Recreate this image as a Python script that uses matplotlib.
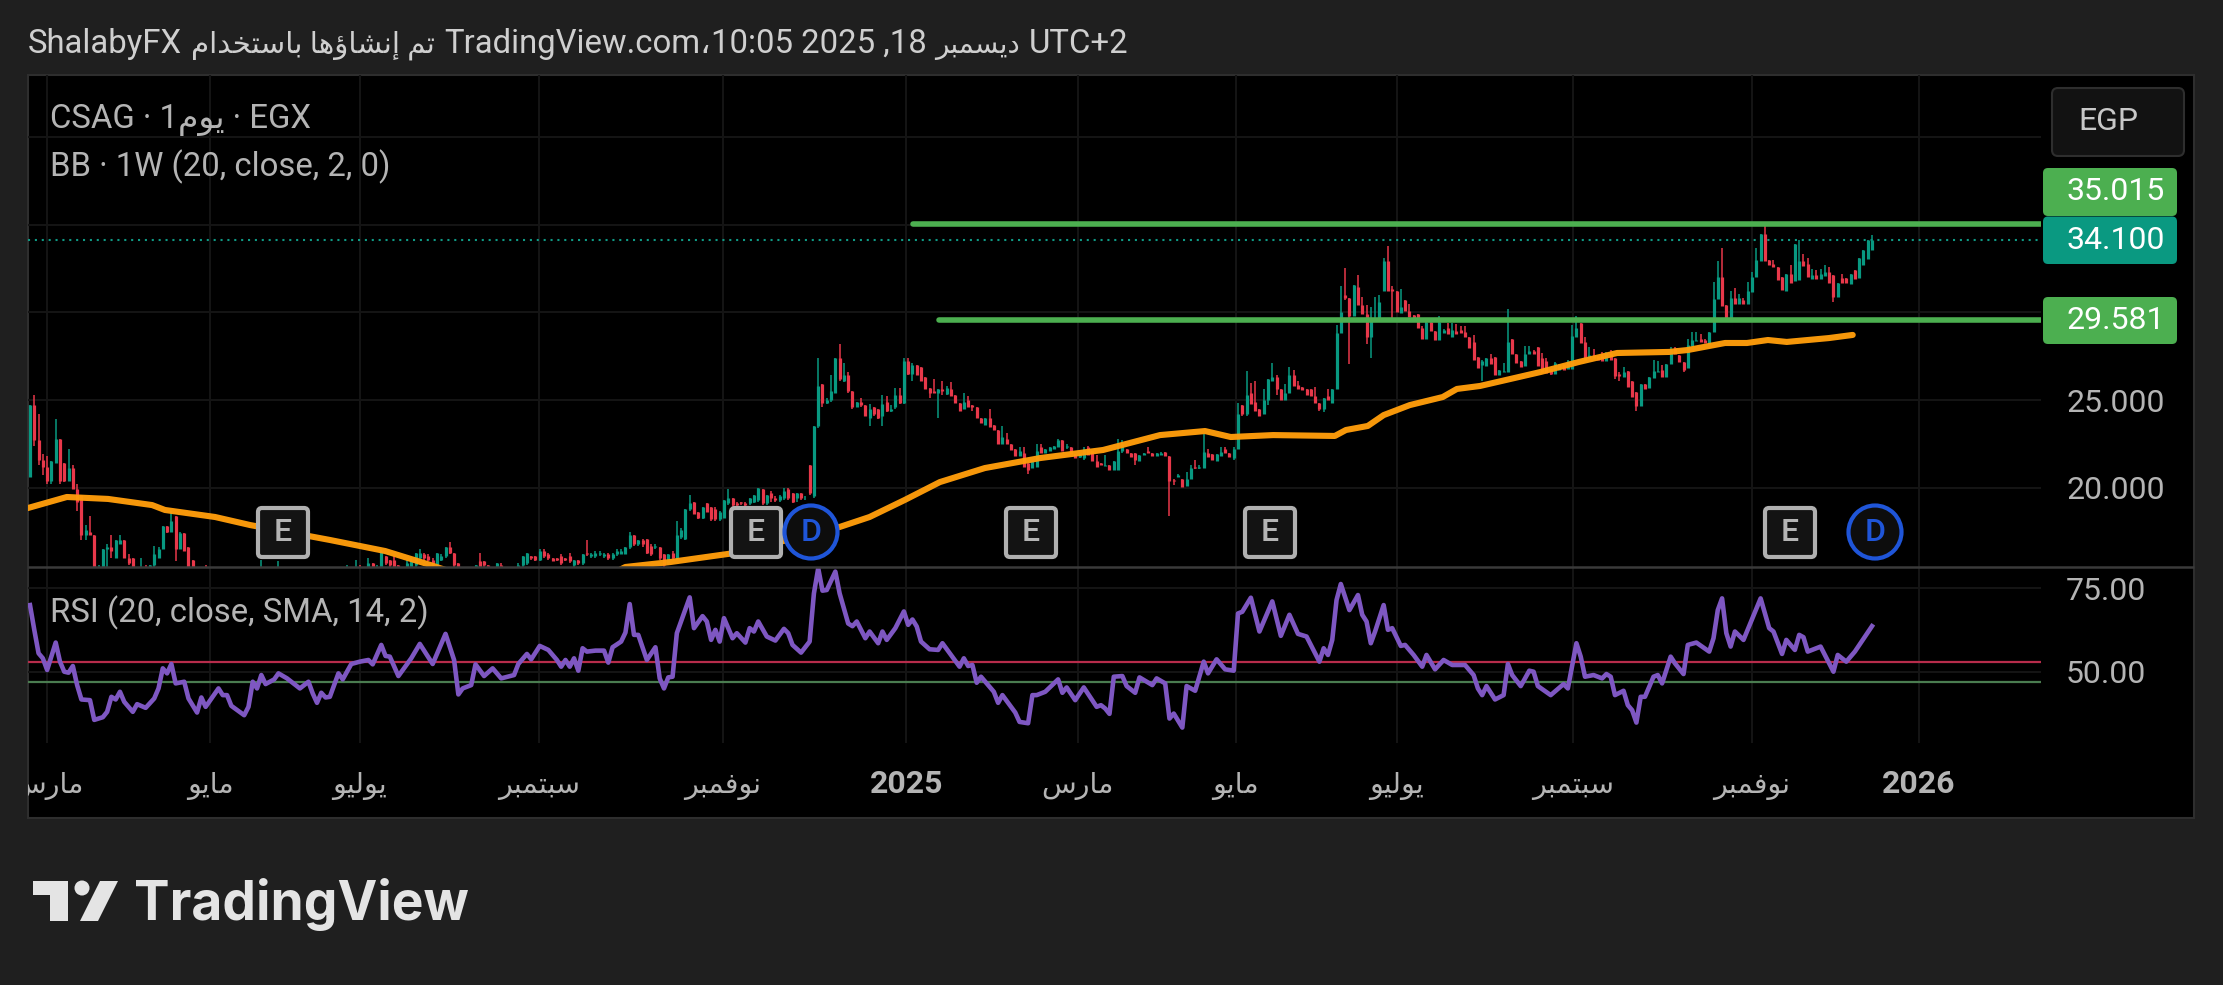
import matplotlib
matplotlib.use("Agg")
import matplotlib.pyplot as plt
from matplotlib.patches import FancyBboxPatch, Circle, Rectangle, Polygon
from matplotlib.transforms import Bbox

plt.rcParams['font.family'] = ['Roboto', 'DejaVu Sans']

closes = [
24.7,22.7,21.6,21.2,20.4,21.5,22.8,20.4,20.4,21.1,
19.9,19.2,17.3,17.6,17.3,15.4,15.3,16.5,16.6,16.4,
17,17,16,15.7,15.3,15,15.4,15.2,15.6,16.2,
16.5,17.8,17.5,18.1,16.5,17.4,16.4,15.4,15,14.9,
14.9,14.8,14.7,14.8,14.9,14.8,14.6,14.7,14.8,14.7,
14.6,14.7,14.8,14.7,15.1,15,14.9,14.8,15.0,14.9,
14.8,14.7,14.8,14.7,14.6,14.7,14.8,14.7,14.8,14.9,
14.8,14.9,15,15.1,15.2,15.1,15.3,15.2,15.3,15.7,15.3,15.5,
16.4,15.7,15.6,15.5,15.4,15.2,15.7,15.8,16.3,16.3,
16,15.9,15.6,16.3,16.1,16.6,16.3,15.6,15.5,15.4,
15.2,15.1,15.6,15.5,15.6,15.4,15.4,15.7,15.4,15.2,
15.2,15.5,15.6,16.1,16.3,16,15.9,16.4,16.1,16,
15.8,15.9,15.7,15.9,15.8,15.9,15.7,16.2,16.2,16.2,
16.3,16.3,16.2,16,16.2,16.4,16.4,16.6,17.3,16.8,
17,16.8,16.3,16.2,16.7,16,15.6,16.2,16,17.3,
17.6,18.8,19.1,18.5,18.25,18.9,18.6,18.2,18.2,18.6,
19.3,19.4,19,19,19.1,19,19.4,19.6,20,19.1,
19.6,19.4,19.3,19.5,19.8,19.4,19.2,19.7,19.4,19.4,
19.7,23.5,25.8,24.85,25,25.5,27.4,26.2,26.4,25.5,
24.6,24.9,24.7,24.1,24.5,24.2,24,24.8,24.4,24.5,
25.3,24.85,27.2,26.5,27,26.4,26.1,25.6,25.4,25.4,
25.6,25.5,25.7,25.2,24.85,24.4,24.9,24.6,24.6,23.95,
23.7,24,23.45,23.3,22.5,22.9,22.5,22.15,21.8,22.1,
21.2,21,21.5,22.1,22,22.2,22.3,22.4,22.7,22.1,
22.4,21.9,21.7,21.9,22.2,21.85,21.5,21.2,21.3,21.3,
21,21.5,22.1,22.5,22,21.75,21.6,21.85,22,21.95,
21.8,21.95,22,21.8,20.4,20.4,20.7,20.05,20.5,21.1,
21.1,21.2,22.05,21.75,21.6,21.9,22.05,21.95,21.75,22.2,
24.2,24.2,25.3,24.8,24.4,24.1,25,26.2,26.3,25.6,
25,25.4,26.4,25.8,25.6,25.55,25.3,25.2,24.85,24.5,
25.1,25,25.65,28.8,30,30.8,29.8,31.55,30.4,29.9,
28.6,29.6,29.65,30.6,32.95,31.2,31.2,30,30.3,30.1,
29.75,29.65,29.1,28.5,29.45,28.95,28.4,29.45,29,28.75,
29,28.75,28.8,28.6,27.95,27.3,26.8,27.2,27.4,27.05,
26.4,26.7,26.65,28.3,27.6,27.1,26.9,27.6,27.8,27.6,
26.95,26.6,26.55,26.5,27.1,27,26.7,27.2,28.65,29.1,
28.25,27.3,27.55,27.4,27.3,27.2,27.7,27.3,26.35,26.35,
26.6,25.75,25.15,24.65,25.9,25.65,26.3,26.65,26.65,26.3,
27.05,27.85,27.6,27.15,26.7,28.15,28.4,28.4,28.3,28.25,
28.9,30.75,32,30.35,29.65,30.8,30.5,30.8,30.5,31.2,
32,33,34.45,32.95,32.7,32.6,31.85,31.25,32.2,31.65,
33.9,32.95,32.65,32,32.1,31.9,32.2,32.3,31.65,30.9,
31.65,31.65,31.65,32.2,31.9,33.1,33.55,34.1,34.1,
]
opens = [
20.6,24.7,22.7,21.6,21.2,20.4,21.4,22.8,21.4,20.4,
21.1,19.9,19.6,17.3,17.5,17.3,15.3,15.3,16.5,16.6,
16,16.8,17,16,16,15.3,15,15.4,15.2,15.6,
16,16.5,17.8,17.5,18.4,16.5,17.4,16.6,15.9,15,
14.9,14.9,14.8,14.7,14.8,14.9,14.8,14.6,14.7,14.8,
14.7,14.6,14.7,14.8,14.7,15.1,15,14.9,14.8,15,
14.9,14.8,14.7,14.8,14.7,14.6,14.7,14.8,14.7,14.8,
14.9,14.8,14.9,15,15.1,15.2,15.1,15.3,15.2,15.3,15.7,15.3,
15.5,16.1,15.9,15.9,15.6,15.4,15.4,15.5,15.6,16.0,
16.2,16.1,15.9,15.6,15.9,16.1,16.6,16.3,15.7,15.5,
15.4,15.2,15.4,15.8,15.8,15.6,15.3,15.4,15.6,15.3,
15.2,15.3,15.4,15.6,15.7,16.1,16.1,15.9,16.4,16.2,
16,16,16.1,16,16.1,15.6,15.9,15.7,16.3,16.1,
16.1,16.2,16.1,16.2,16,16.2,16.2,16.2,16.6,17.3,
16.8,17,17.1,16.7,16.6,16.6,16.2,15.7,16.3,16,
17.2,17.1,18.8,19.2,18.6,18.25,19.1,18.9,18.8,18.2,
18.3,19.1,19.4,19.1,19.2,19.1,19.1,19.2,19.3,19.9,
19.1,19.7,19.4,19.3,19.4,19.9,19.7,19.4,19.7,19.4,
21.3,19.5,23.5,25.9,24.85,25,25.4,27.4,26.1,26.4,
25.5,24.6,24.9,24.7,24,24.6,24.5,24.1,24.9,24.4,
24.6,25.3,24.85,27.2,26.5,27,26.9,26.3,25.7,25.5,
25.4,25.6,25.35,25.65,25.3,24.85,24.5,25,24.7,24.6,
24,23.6,24,23.6,23.3,22.5,22.8,22.5,22.2,21.8,
22,21.4,21.1,21.2,22.3,22,22.1,22.2,22.3,22.7,
22.3,22.3,21.9,21.75,21.7,22.3,22.1,21.5,21.4,21.25,
21.3,21,21,22.1,22.2,22,22,21.55,21.85,22.1,
22,21.8,21.85,22.05,21.8,20.45,20.6,20.5,20.1,20.5,
21.2,21.1,21.1,22,21.9,21.55,21.8,22.2,22,21.7,
22.2,24.7,24.2,25.4,24.9,24.5,24.2,25,26.1,26.3,
25.6,25,25.4,26.4,25.85,25.75,25.6,25.6,25.2,24.85,
24.5,25.2,24.85,25.6,28.8,31,30.8,29.8,31.45,30.4,
29.9,28.6,29.55,29.65,31.2,32.95,31.35,31.2,29.95,30.7,
30.05,29.85,29.9,29.1,28.5,29.45,28.95,28.4,28.8,29.1,
28.6,28.95,29,28.9,28.6,28.3,27.45,27,26.95,27.4,
27.45,26.4,26.6,26.6,28.45,27.65,27.2,26.95,27.6,27.8,
28,27.4,27.25,26.75,26.5,26.7,27,26.75,26.75,28.6,
29.4,28.3,27.4,27.55,27.5,27.5,27.2,27.65,27.4,26.5,
26.3,26.65,26.1,25.45,24.65,25.9,25.7,26.25,26.6,26.7,
26.3,27.05,27.95,27.55,27.15,26.8,28.1,28.35,28.45,28.4,
28.2,28.9,30.75,32,30.4,29.65,30.8,30.5,30.7,30.5,
31.15,32,32.9,34.45,33,32.75,32.6,32,31.2,32.2,
31.8,31.85,32.95,32.75,31.9,32.1,31.9,32.05,32.3,32.1,
30.9,31.95,31.95,31.6,32.4,31.95,32.7,33.05,33.55,
]
highs = [
24.7,25.3,24.2,21.9,21.8,21.5,23.9,22.8,21.4,22.2,
21.3,20.2,19.6,17.9,18.4,17.3,15.6,16.5,16.8,17.3,
17,17.3,17,16.2,16,15.3,16,15.6,15.6,16.7,
16.6,17.8,17.8,18.7,18.4,17.5,17.4,16.6,15.9,15.2,
15.1,15.6,15,14.9,15,15,14.9,14.8,14.9,14.9,
14.8,14.9,15,14.9,15.9,15.2,15.1,15,15.8,15.1,
15.5,14.9,15,14.9,14.8,14.8,14.9,14.9,14.9,15,
15,15,15.1,15.2,15.6,15.3,15.9,15.6,15.4,16,15.7,15.6,
16.5,16.1,15.9,16.1,15.6,15.4,15.9,16,16.3,16.5,
16.3,16.2,16,16.3,16.2,16.6,16.9,16.3,15.7,15.5,
15.4,15.3,15.6,16.3,15.8,15.6,15.5,15.7,15.7,15.4,
15.3,15.5,15.7,16.1,16.3,16.1,16.1,16.5,16.5,16.3,
16,16,16.2,16,16.3,15.9,15.9,16.2,17,16.3,
16.4,16.4,16.3,16.3,16.3,16.5,16.5,16.6,17.5,17.3,
17,17.1,17.1,16.8,16.8,16.6,16.2,16.2,16.4,18.1,
17.7,18.8,19.6,19.2,18.6,18.9,19.1,18.9,18.9,18.7,
19.3,19.9,19.4,19.2,19.2,19.2,19.4,19.6,20,19.9,
19.6,19.8,19.5,19.6,20,20,19.7,19.7,19.7,19.5,
21.3,23.5,27.4,25.9,25.1,26.4,27.4,28.2,27.1,26.6,
25.5,24.9,25.1,24.7,24.8,24.6,24.5,25.3,25.2,24.7,
25.7,25.7,27.4,27.4,27.1,27,26.9,26.3,25.7,26.2,
25.6,26.1,25.8,26,25.3,24.85,25.4,25.2,24.7,24.6,
24,24,24.5,23.6,23.3,23.5,23.1,22.5,22.2,22.3,
22.3,21.4,21.5,22.5,22.5,22.2,22.3,22.4,22.8,22.7,
22.5,22.3,21.9,21.9,22.3,22.4,22.1,21.85,21.4,21.85,
21.3,21.5,22.75,22.7,22.2,22,22,21.85,22,22.3,
22,22,22.05,22.05,21.8,20.5,20.8,20.5,20.9,21.3,
21.6,21.3,23.05,22.2,21.9,21.9,22.3,22.3,22,22.3,
24.85,24.7,26.65,25.95,26.1,24.5,25.6,26.2,27.1,26.4,
25.6,25.9,26.9,26.7,26.1,25.75,25.6,25.6,25.75,24.85,
25.1,25.65,25.65,29.3,31.5,32.5,30.8,31.55,32.1,30.9,
30.4,30.3,30.85,31,33.1,33.8,31.5,31.2,31.3,30.7,
30.5,29.85,29.9,29.2,29.45,29.45,28.95,29.8,29.05,29.4,
29.4,29.35,29.2,29.2,28.6,28.7,27.45,27.3,27.4,27.6,
27.45,26.7,27.1,30.2,28.5,27.65,27.2,28.1,28.1,27.85,
28,27.7,27.4,26.75,27.15,27.05,27,27.3,29.3,29.8,
29.4,28.6,28,27.9,27.5,27.75,27.75,27.85,27.4,26.6,
26.9,26.65,26.1,25.45,25.9,25.9,26.3,27.3,27.2,27,
27.05,28,28,27.55,27.15,28.45,28.9,28.9,28.75,28.5,
28.9,31.75,32.9,33.65,30.4,31.2,31.4,31.05,30.8,31.75,
32.3,33.65,34.45,34.9,33,33,32.6,32,32.2,32.7,
33.9,34.15,33.3,33.1,32.45,32.4,32.45,32.7,32.6,32.1,
31.65,32.2,31.95,32.2,32.4,33.1,33.55,34.1,34.4,
]
lows = [
20.6,22.4,21.3,20.7,20.2,20.2,21.4,20.2,20.3,20.4,
19.9,18.7,17,17,17.3,15.4,15,15.3,15.2,16,
16,16.8,16,15.6,15.3,15,15,15,15,15.5,
16,16.5,17.4,17.5,15.8,16.5,16.4,15.4,15,14.8,
14.7,14.7,14.5,14.6,14.7,14.6,14.5,14.5,14.6,14.6,
14.5,14.5,14.6,14.6,14.6,14.9,14.8,14.7,14.7,14.8,
14.7,14.6,14.6,14.6,14.5,14.5,14.6,14.6,14.6,14.7,
14.7,14.7,14.8,14.9,15,15,15,15.1,15.1,15.2,15.2,15.2,
15.4,15.6,15.5,15.4,15.3,15.1,15.3,15.4,15.5,15.9,
15.9,15.8,15.5,15.5,15.8,16,16.2,15.5,15.4,15.3,
15.1,15,15.3,15.4,15.4,15.3,15.2,15.3,15.3,15.1,
15.1,15.2,15.4,15.5,15.6,15.9,15.8,15.8,16,15.9,
15.8,15.8,15.6,15.8,15.7,15.5,15.6,15.6,16.1,16,
16,16.1,16,15.9,15.9,16.1,16.2,16.2,16.5,16.7,
16.7,16.6,16.2,16.1,16.5,15.9,15.5,15.6,15.9,15.9,
17.1,17,18.7,18.5,18.2,18.2,18.6,18.1,18.1,18.1,
18.3,19,18.9,18.9,19,18.9,19,19.1,19.2,19,
19,19.2,19.2,19.2,19.3,19.3,19.1,19.2,19.3,19.3,
19.6,19.4,23.4,24.6,24.8,24.9,25.4,26.1,26,25.4,
24.5,24.6,24.6,24.1,23.5,24.1,23.9,23.5,24.3,24.3,
24.5,24.8,24.8,26.4,26.1,26.4,26.1,25.6,25.1,25.4,
24,25.3,25.3,25.2,24.85,24.4,24.5,24.6,24.4,23.95,
23.7,23.6,23.45,23.3,22.5,22.5,22.5,22.15,21.8,21.8,
21.2,20.8,21.1,21.2,22,22,22.1,22.2,22.3,22.1,
22.2,21.9,21.7,21.7,21.6,21.85,21.5,21.2,21.3,21.25,
21,21,21,22,22,21.75,21.3,21.55,21.85,21.95,
21.8,21.8,21.85,21.8,18.4,20.15,20.6,20.05,20.1,20.5,
21.05,21.05,21.1,21.75,21.6,21.55,21.8,21.95,21.75,21.6,
22.2,24.1,24.1,24.8,24.4,24.1,24.2,24.7,26.1,25.3,
25,25,25.4,25.8,25.6,25.55,25.3,25.2,24.85,24.4,
24.3,25,24.85,25.6,28.8,30.7,27.05,29.8,30.4,29.9,
28.2,27.4,29.5,29.65,31.2,31.2,29.7,30,29.95,30.1,
29.75,29.65,29.1,28.5,28.5,28.95,28.4,28.4,28.8,28.75,
28.6,28.75,28.8,28.6,27.95,27.3,26.8,26.1,26.95,27.05,
26.4,26.4,26.6,26.6,27.6,27.1,26.9,26.95,27.6,27.6,
26.95,26.6,26.55,26.4,26.5,26.7,26.7,26.75,26.75,28.6,
28.25,27.3,27.35,27.4,27.3,27.2,27.2,27.3,26.2,26.1,
26.3,25.75,25.15,24.4,24.65,25.65,25.7,26.25,26.6,26.3,
26.3,27.05,27.6,27.15,26.6,26.8,28.1,28.35,28.3,28.25,
28.2,28.9,30.75,30.35,29.6,29.65,30.5,30.5,30.5,30.5,
31.15,32,32.9,32.95,32.7,32.6,31.85,31.25,31.2,31.65,
31.8,31.85,32.65,32,31.9,31.9,31.9,32.05,31.65,30.6,
30.9,31.65,31.65,31.6,31.9,31.95,32.7,33.05,33.55,
]

bb_bars = [-0.5,8.6,18.2,28.5,31.5,43.2,51.4,70,82.9,93.4,102.7,114,133,139,149.4,164.6,189,196,204.2,212.4,222.9,235.8,250.5,263.8,274.3,280.3,290.2,304.6,307.2,312.3,316,322.1,329.8,333.1,338.5,352.7,361.6,370.5,382.6,387,395.7,400.8,405.7,410.1,419.9,425.5]
bb_vals = [18.84,19.47,19.36,19.01,18.73,18.33,17.87,17.02,16.39,15.6,14.85,14.45,14.74,15.48,15.76,16.28,17.76,18.33,19.3,20.32,21.12,21.69,22.15,23.0,23.23,22.89,23.0,22.95,23.29,23.52,24.14,24.71,25.17,25.63,25.8,26.6,27.17,27.68,27.74,27.85,28.25,28.25,28.42,28.31,28.53,28.71]

rsi_bars = [0,1,2,3,4,6,7,8,9,10,11,12,14,15,17,18,19,20,21,22,24,25,27,29,30,31,32,33,34,36,37,39,40,41,44,45,46,47,50,51,52,53,54,55,57,58,60,62,63,65,66,67,68,69,70,72,73,75,77,79,80,82,83,84,86,89,91,92,94,97,99,100,101,103,104,106,108,110,113,114,116,117,119,121,123,124,125,126,127,128,129,130,132,134,135,136,138,139,140,141,142,144,146,147,148,149,150,151,154,155,157,158,159,160,161,162,164,165,167,168,169,170,172,174,176,177,178,180,182,183,184,185,186,188,189,191,192,193,195,196,198,199,200,202,204,205,206,207,208,210,212,213,217,218,219,220,221,222,225,226,227,230,231,233,234,235,237,240,241,242,244,246,249,
250,251,252,253,255,256,258,259,262,263,265,266,267,269,270,272,274,275,277,279,281,282,283,285,287,290,292,294,296,298,301,302,303,304,305,306,308,310,311,312,313,314,316,317,318,320,321,323,325,326,328,330,332,335,337,338,339,340,342,344,345,346,348,350,351,352,355,358,359,361,362,363,365,367,368,369,370,372,373,374,375,376,377,379,380,381,383,384,386,387,389,392,393,394,395,396,397,398,400,404,406,407,409,410,412,413,414,415,418,421,422,424,426,430]
rsi_vals = [69.9,62.5,55.5,54,50.5,58.7,53,50,49.7,51.7,46,41.7,41.5,35.6,36.4,38,42.5,41.7,44,41,38,40.3,39.2,42,45,51,49.5,52.3,46.5,47,42,37.8,42.3,39.5,45,43,43,39.8,37,39.5,47,45,49,46.3,47.7,49.5,48,46,45,47,43.5,40.7,43.7,42.3,42.5,49.5,47.7,52.3,53,53.5,52.2,58,54.7,54.5,48.7,54,58.3,56.3,52.3,61.3,53.5,43.2,45,46,52.2,48.7,51,48,49,52.3,55.3,53.7,57.7,56.5,53.5,51.5,53.5,51.5,54,50.3,57,56,56.3,56.3,52.7,57.3,59,61.7,70.2,61,61,53.5,57.3,48,45,48.3,48.5,61.5,72.2,63,66.6,65,59.5,62.5,59,66,60,61.5,58.7,63,62,65,60.5,59.3,62.8,61.5,58,55.7,59,73.4,80.9,74.2,74.4,79.9,73.4,64.4,63.6,65,60,62,58.5,62,59.5,63,68,64,65.6,63.5,59,56.7,56.5,58.5,51.5,54,51.7,52,46.7,48.5,44,40.7,43,37.8,35,34.6,43,43,44,47.7,43.7,45.3,41.5,45.3,39.5,
40,39,37.4,48.5,48.7,45.7,43.7,48.3,46,48,46.5,36,37.5,33.3,45.7,44.3,53,49.5,53.7,50.7,50.3,67.4,67.9,72.1,62,71,60.7,67,61.3,60.5,53,57,55,59.5,71.4,76.2,68.4,72.9,67,65,58.5,62,69.9,62.5,63,57.7,58,55,51.5,55,50.7,53.5,52,52,49,45,43,45.7,41.7,43,52.3,49,45.7,50.3,50,45.7,43,46.3,45,58.5,54.5,48.5,49,48,49.3,48.5,43,44.3,40,38.5,34.8,42.5,42.5,48.5,49,46.5,54.5,52.5,49.3,58,58.7,56,60,68.4,71.9,61.5,57.5,62,59.5,71.9,63,62,55.3,59.5,56.5,61,60.3,56,57.5,50,55,53,56,63.6]

price_ticks = [20, 25, 30, 35, 40]
price_tick_labels = ["20.000", "25.000", "", "", ""]
rsi_ticks = [50, 75]
rsi_tick_labels = ["50.00", "75.00"]
rsi_upper = 53
rsi_lower = 47
time_ticks = [4, 42.1, 77, 118.8, 161.8, 204.6, 244.6, 281.5, 319.1, 360.2, 402, 441]
time_labels = ["مارس", "مايو", "يوليو", "سبتمبر", "نوفمبر", "2025", "مارس", "مايو", "يوليو", "سبتمبر", "نوفمبر", "2026"]
resistance = 35.015
support = 29.581
last_price = 34.1
tag_values = ["35.015", "34.100", "29.581"]

# ---- minimal Arabic shaping so the glyphs join and read right to left
FORMS = {
 'ا': (0xFE8D, 0xFE8E), 'إ': (0xFE87, 0xFE88), 'ؤ': (0xFE85, 0xFE86), 'ر': (0xFEAD, 0xFEAE),
 'د': (0xFEA9, 0xFEAA), 'و': (0xFEED, 0xFEEE),
 'ب': (0xFE8F, 0xFE90, 0xFE91, 0xFE92), 'ت': (0xFE95, 0xFE96, 0xFE97, 0xFE98),
 'س': (0xFEB1, 0xFEB2, 0xFEB3, 0xFEB4), 'ش': (0xFEB5, 0xFEB6, 0xFEB7, 0xFEB8),
 'خ': (0xFEA5, 0xFEA6, 0xFEA7, 0xFEA8), 'ف': (0xFED1, 0xFED2, 0xFED3, 0xFED4),
 'ل': (0xFEDD, 0xFEDE, 0xFEDF, 0xFEE0), 'م': (0xFEE1, 0xFEE2, 0xFEE3, 0xFEE4),
 'ن': (0xFEE5, 0xFEE6, 0xFEE7, 0xFEE8), 'ه': (0xFEE9, 0xFEEA, 0xFEEB, 0xFEEC),
 'ي': (0xFEF1, 0xFEF2, 0xFEF3, 0xFEF4),
}

def vis(s):
    if not any(c in FORMS for c in s):
        return s
    out = []
    for i, c in enumerate(s):
        if c not in FORMS:
            out.append(c)
            continue
        f = FORMS[c]
        p = s[i - 1] if i > 0 else ''
        n = s[i + 1] if i + 1 < len(s) else ''
        pj = p in FORMS and len(FORMS[p]) == 4
        nj = n in FORMS and len(f) == 4
        if pj and nj:
            out.append(chr(f[3]))
        elif pj:
            out.append(chr(f[1]))
        elif nj:
            out.append(chr(f[2]))
        else:
            out.append(chr(f[0]))
    return ''.join(reversed(out))


W, H = 2223, 985
BG = '#1f1f1f'
GRID = '#141414'
TXT = '#b4b4b4'
UP = '#089981'
DOWN = '#e8384a'
FS = 23
FS_LEG = 23.7

fig = plt.figure(figsize=(W / 100, H / 100), dpi=100, facecolor=BG)


def rect(x0, y0, x1, y1):
    return [x0 / W, 1 - y1 / H, (x1 - x0) / W, (y1 - y0) / H]


ax_bg = fig.add_axes([0, 0, 1, 1], zorder=0)
ax_bg.set_xlim(0, W)
ax_bg.set_ylim(H, 0)
ax_bg.axis('off')
ax_bg.add_patch(Rectangle((28, 75), 2194 - 28, 818 - 75, fc='black', ec='#2e2e2e', lw=1.5))

ax = fig.add_axes(rect(28, 75, 2041, 567), zorder=1, facecolor='none')
ax_r = fig.add_axes(rect(28, 567, 2041, 743), zorder=2, facecolor='none', sharex=ax)

N = len(closes)
step = (1872 - 30) / (N - 1)
xl = (28 - 30) / step
xr = (2041 - 30) / step
bars = list(range(N))

ax.set_xlim(xl, xr)
ax.set_ylim(25 + (400 - 567) / 17.54, 25 + (400 - 75) / 17.54)
ax_r.set_ylim(50 - (743 - 671.7) / 3.347, 75 + (588 - 567) / 3.347)

colors = [UP if c >= o else DOWN for o, c in zip(opens, closes)]
ax.vlines(bars, lows, highs, colors=colors, lw=1.1, zorder=2)
ax.vlines(bars, opens, closes, colors=colors, lw=2.3, zorder=2.1, capstyle='butt')

ax.plot(bb_bars, bb_vals, color='#ff9d0b', lw=4.4, solid_capstyle='round', solid_joinstyle='round', zorder=3, alpha=0.97)
ax.plot([(913 - 30) / step, xr], [resistance, resistance], color='#4caf50', lw=4.0, solid_capstyle='round', zorder=3.2)
ax.plot([(939 - 30) / step, xr], [support, support], color='#4caf50', lw=4.0, solid_capstyle='round', zorder=3.2)
ax.axhline(last_price, color='#0f9a85', lw=1.5, ls=(0, (1.0, 2.3)), zorder=1.5)

ax_r.plot(rsi_bars, rsi_vals, color='#7e57c2', lw=3.3, solid_joinstyle='round', zorder=3)
ax_r.axhline(rsi_upper, color='#b72c4b', lw=1.6, zorder=2)
ax_r.axhline(rsi_lower, color='#4a7c50', lw=1.6, zorder=2)

for a in (ax, ax_r):
    for s in a.spines.values():
        s.set_visible(False)
    a.grid(True, color=GRID, lw=1.5, zorder=0)
    a.set_axisbelow(True)
    a.yaxis.tick_right()
    a.tick_params(axis='y', length=0, pad=18, labelsize=FS, labelcolor=TXT)

ax.set_yticks(price_ticks, price_tick_labels)
ax_r.set_yticks(rsi_ticks, rsi_tick_labels)
ax.tick_params(axis='x', length=0, labelbottom=False)
ax_r.set_xticks(time_ticks, [vis(t) for t in time_labels])
ax_r.tick_params(axis='x', length=0, pad=36, labelsize=FS, labelcolor=TXT)
panel_clip = Bbox([[28, 0], [2194, 985]])
for lab, t in zip(ax_r.get_xticklabels(), time_labels):
    lab.set_verticalalignment('baseline')
    if t.isdigit():
        lab.set_fontweight('bold')
    else:
        lab.set_fontsize(20.5)
    lab.set_clip_box(panel_clip)
    lab.set_clip_on(True)

ov = fig.add_axes([0, 0, 1, 1], zorder=5, facecolor='none')
ov.set_xlim(0, W)
ov.set_ylim(H, 0)
ov.axis('off')

ov.plot([28, 2194], [567, 567], color='#3a3a3a', lw=1.8, solid_capstyle='butt')

HC = '#cfcfcf'
ov.text(28, 53, "ShalabyFX", color=HC, fontsize=FS_LEG, va='baseline')
ov.text(191, 53, vis("تم إنشاؤها باستخدام"), color=HC, fontsize=21.2, va='baseline')
ov.text(444, 53, "TradingView.com،", color=HC, fontsize=FS_LEG, va='baseline')
ov.text(711, 53, "10:05 2025 ,18", color=HC, fontsize=FS_LEG, va='baseline')
ov.text(935, 53, vis("ديسمبر"), color=HC, fontsize=20, va='baseline')
ov.text(1029, 53, "UTC+2", color=HC, fontsize=FS_LEG, va='baseline')
ov.text(50, 128, "CSAG · 1" + vis("يوم") + " · EGX", color=TXT, fontsize=FS_LEG, va='baseline')
ov.text(50, 176, "BB · 1W (20, close, 2, 0)", color=TXT, fontsize=FS_LEG, va='baseline')
ov.text(50, 622, "RSI (20, close, SMA, 14, 2)", color=TXT, fontsize=FS_LEG, va='baseline')

ov.add_patch(FancyBboxPatch((2052, 88), 132, 68, boxstyle="round,pad=0,rounding_size=6", fc='#121212', ec='#2e2e2e', lw=1.5))
ov.text(2108, 122, "EGP", color='#c8c8c8', fontsize=FS, ha='center', va='center')

tags = [(168, 216, '#4caf50'), (216.5, 264, '#0a9981'), (297, 344, '#4caf50')]
for (y0, y1, col), val in zip(tags, tag_values):
    ov.add_patch(FancyBboxPatch((2043, y0), 2177 - 2043, y1 - y0, boxstyle="round,pad=0,rounding_size=5", fc=col, ec='none'))
    ov.text(2066, (y0 + y1) / 2, val, color='white', fontsize=FS, ha='left', va='center')

for cx in (283, 756, 1031, 1270, 1790):
    ov.add_patch(FancyBboxPatch((cx - 25, 508), 50, 49, boxstyle="round,pad=0,rounding_size=4", fc='#131313', ec='#b0b0b0', lw=3))
    ov.text(cx, 532.5, "E", color='#b4b4b4', fontsize=FS, weight=500, ha='center', va='center')
for cx in (811, 1875):
    ov.add_patch(Circle((cx, 532), 26.5, fc='#0d0d0d', ec='#1f55d8', lw=3))
    ov.text(cx, 532.5, "D", color='#1f55d8', fontsize=FS, weight=500, ha='center', va='center')

# TradingView logo
LOGO = '#e4e4e4'
ov.add_patch(Polygon([(33, 881), (68, 881), (68, 921), (50, 921), (50, 895), (33, 895)], fc=LOGO, ec='none'))
ov.add_patch(Circle((82, 888), 7.5, fc=LOGO, ec='none'))
ov.add_patch(Polygon([(100, 881), (118, 881), (98, 921), (80, 921)], fc=LOGO, ec='none'))
ov.text(134, 920, "TradingView", color=LOGO, fontsize=38.4, family='Inter', weight='bold', va='baseline')

fig.savefig('out.png', dpi=100, facecolor=BG)
